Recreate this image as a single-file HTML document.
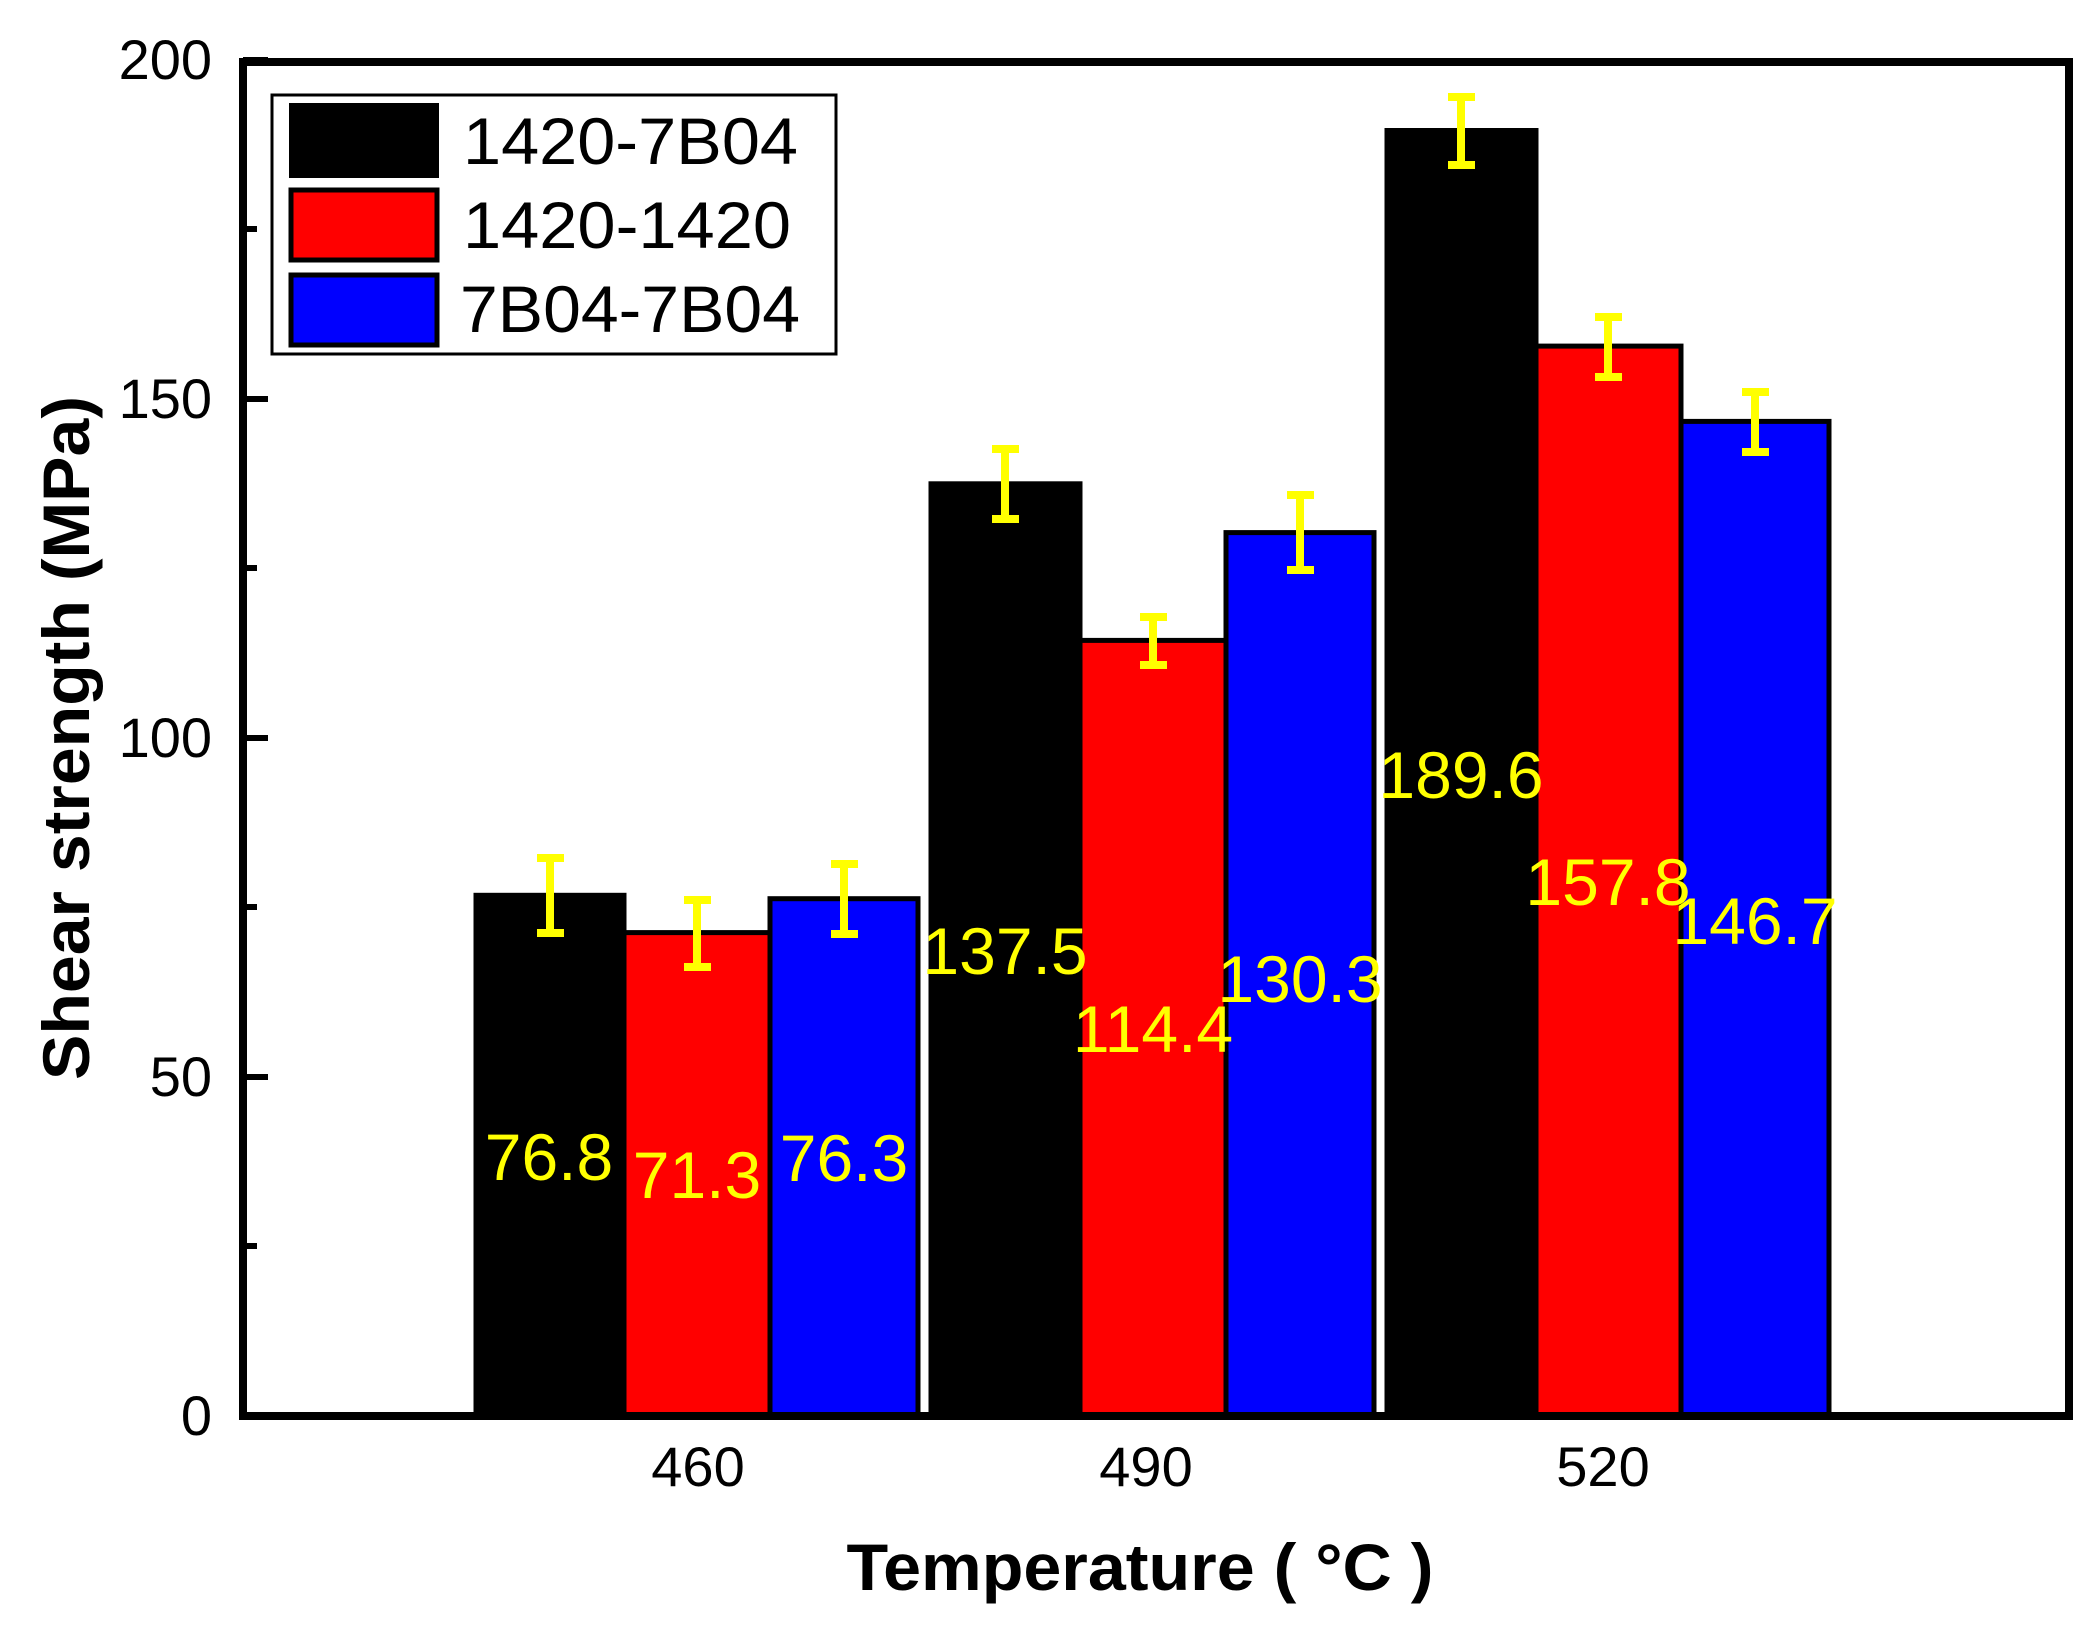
<!DOCTYPE html>
<html><head><meta charset="utf-8"><style>html,body{margin:0;padding:0;background:#fff}svg{display:block}</style></head>
<body>
<svg width="2090" height="1631" viewBox="0 0 2090 1631" xmlns="http://www.w3.org/2000/svg" font-family="Liberation Sans, Arial, sans-serif">
<rect width="2090" height="1631" fill="#fff"/>
<!-- bars -->
<g stroke="#000" stroke-width="5" transform="translate(-3,0)">
<rect x="479" y="895.3" width="148" height="520.7" fill="#000"/>
<rect x="627" y="932.6" width="146" height="483.4" fill="#f00"/>
<rect x="773" y="898.7" width="148" height="517.3" fill="#00f"/>
<rect x="934" y="483.8" width="149" height="932.2" fill="#000"/>
<rect x="1083" y="640.4" width="146" height="775.6" fill="#f00"/>
<rect x="1229" y="532.6" width="148" height="883.4" fill="#00f"/>
<rect x="1390" y="130.5" width="149" height="1285.5" fill="#000"/>
<rect x="1539" y="346.1" width="145" height="1069.9" fill="#f00"/>
<rect x="1684" y="421.4" width="148" height="994.6" fill="#00f"/>
</g>
<g transform="translate(-3,0)">
<!-- error bars -->
<g stroke="#ff0" stroke-width="8" fill="none">
<path d="M553 858v75M540 858h27M540 933h27"/>
<path d="M700 900v67M687 900h27M687 967h27"/>
<path d="M847 864v70M834 864h27M834 934h27"/>
<path d="M1008 449v70M995 449h27M995 519h27"/>
<path d="M1156 617v48M1143 617h27M1143 665h27"/>
<path d="M1303 495v75M1290 495h27M1290 570h27"/>
<path d="M1464 97v68M1451 97h27M1451 165h27"/>
<path d="M1611 317v60M1598 317h27M1598 377h27"/>
<path d="M1758 392v60M1745 392h27M1745 452h27"/>
</g>
<!-- value labels -->
<g fill="#ff0" font-size="66" text-anchor="middle">
<text x="552" y="1180">76.8</text>
<text x="700" y="1198">71.3</text>
<text x="847" y="1181">76.3</text>
<text x="1008" y="974">137.5</text>
<text x="1156" y="1052">114.4</text>
<text x="1303" y="1002">130.3</text>
<text x="1464" y="798">189.6</text>
<text x="1611" y="905">157.8</text>
<text x="1758" y="944">146.7</text>
</g>
</g>
<!-- axes frame -->
<rect x="243" y="62" width="1826" height="1354" fill="none" stroke="#000" stroke-width="8"/>
<!-- y ticks -->
<g stroke="#000" stroke-width="6">
<path d="M243 1077h25M243 738h25M243 399h25M243 60h25"/>
<path d="M243 1246h14M243 907h14M243 568h14M243 229h14"/>
</g>
<g font-size="56" text-anchor="end">
<text x="212" y="1435">0</text>
<text x="212" y="1096">50</text>
<text x="212" y="757">100</text>
<text x="212" y="418">150</text>
<text x="212" y="79">200</text>
</g>
<g font-size="56" text-anchor="middle">
<text x="698" y="1486">460</text>
<text x="1146" y="1486">490</text>
<text x="1603" y="1486">520</text>
</g>
<text x="1140" y="1590" font-size="66" font-weight="bold" text-anchor="middle" textLength="587" lengthAdjust="spacingAndGlyphs">Temperature ( °C )</text>
<text transform="translate(89,738) rotate(-90)" font-size="66" font-weight="bold" text-anchor="middle" textLength="684" lengthAdjust="spacingAndGlyphs">Shear strength (MPa)</text>
<!-- legend -->
<rect x="272" y="95" width="564" height="259" fill="#fff" stroke="#000" stroke-width="3"/>
<rect x="289" y="103" width="150" height="75" fill="#000"/>
<rect x="291" y="190" width="146" height="70" fill="#f00" stroke="#000" stroke-width="5"/>
<rect x="291" y="275" width="146" height="70" fill="#00f" stroke="#000" stroke-width="5"/>
<g font-size="66">
<text x="463" y="164" textLength="335" lengthAdjust="spacingAndGlyphs">1420-7B04</text>
<text x="463" y="248" textLength="328" lengthAdjust="spacingAndGlyphs">1420-1420</text>
<text x="460" y="332" textLength="340" lengthAdjust="spacingAndGlyphs">7B04-7B04</text>
</g>
</svg>
</body></html>
